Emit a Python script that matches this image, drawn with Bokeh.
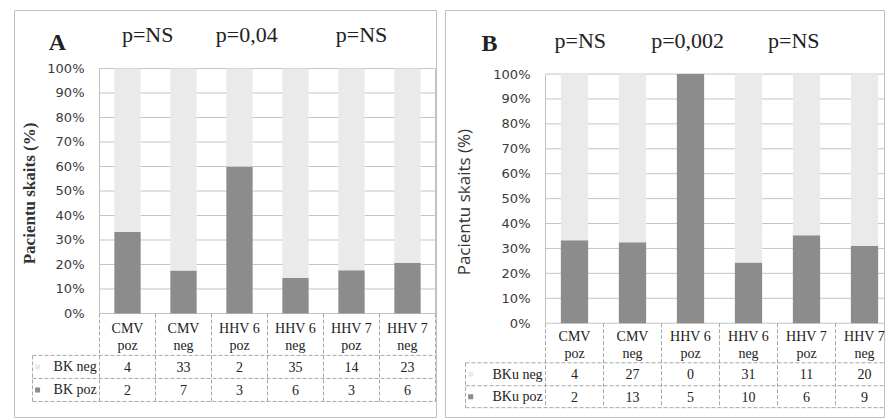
import math
from bokeh.plotting import figure
from bokeh.models import ColumnDataSource, LinearAxis, FixedTicker, NumeralTickFormatter, Range1d
from bokeh.layouts import row
from bokeh.embed import file_html
from bokeh.resources import INLINE
from bokeh.core.properties import value

# ---------------- data ----------------
categories = ["CMV\npoz", "CMV\nneg", "HHV 6\npoz", "HHV 6\nneg", "HHV 7\npoz", "HHV 7\nneg"]
a_neg = [4, 33, 2, 35, 14, 23]
a_poz = [2, 7, 3, 6, 3, 6]
a_series = ["BK neg", "BK poz"]
a_pvalues = ["p=NS", "p=0,04", "p=NS"]

b_neg = [4, 27, 0, 31, 11, 20]
b_poz = [2, 13, 5, 10, 6, 9]
b_series = ["BKu neg", "BKu poz"]
b_pvalues = ["p=NS", "p=0,002", "p=NS"]

y_ticks = [0.0, 0.1, 0.2, 0.3, 0.4, 0.5, 0.6, 0.7, 0.8, 0.9, 1.0]
y_title = "Pacientu skaits (%)"

# ---------------- styles ----------------
DARK = "#8c8c8c"
LIGHT = "#eaeaea"
GRID = "#c4c4c4"
TLINE = "#a8a8a8"
SERIF = "Liberation Serif"
SANS = "Open Sans"
TICKFONT = "DejaVu Sans"


def make_panel(letter, neg, poz, series, pvals, cfg):
    n = len(categories)
    xs = [i + 0.5 for i in range(n)]
    poz_pct = [p / (p + q) for p, q in zip(poz, neg)]
    neg_pct = [q / (p + q) for p, q in zip(poz, neg)]

    p = figure(width=cfg["width"], height=419, output_backend="svg", toolbar_location=None,
               x_range=Range1d(*cfg["xr"]), y_range=Range1d(*cfg["yr"]),
               x_axis_type=None, y_axis_type=None,
               min_border_left=cfg["mbl"], min_border_right=0,
               min_border_top=cfg["mbt"], min_border_bottom=419 - cfg["mbt"] - cfg["fh"])
    p.xgrid.visible = False
    p.ygrid.visible = False
    p.outline_line_color = "#c0c0c0"
    p.background_fill_color = "white"
    p.border_fill_color = "white"

    # y axis at plot-area left edge
    ax = LinearAxis(ticker=FixedTicker(ticks=y_ticks), formatter=NumeralTickFormatter(format="0%"),
                    fixed_location=0, bounds=(0, 1),
                    major_label_text_font=TICKFONT, major_label_text_font_size="13px",
                    major_label_text_color="#3a3a3a", major_label_standoff=9,
                    axis_line_color=GRID, major_tick_line_color=None, minor_tick_line_color=None)
    p.add_layout(ax, "left")

    # gridlines inside the plot area
    p.segment(x0=[0] * len(y_ticks), x1=[n] * len(y_ticks), y0=y_ticks, y1=y_ticks,
              line_color=GRID, line_width=1)
    p.segment(x0=[n], x1=[n], y0=[0], y1=[1], line_color=GRID, line_width=1)

    # stacked bars
    src = ColumnDataSource(dict(x=xs, poz=poz_pct, neg=neg_pct))
    p.vbar_stack(["poz", "neg"], x="x", width=0.47, color=[DARK, LIGHT], line_color=None, source=src)

    # data table
    tt, tm, tb = cfg["table"]
    ll = cfg["leg_left"]
    p.segment(x0=[ll, ll, ll], x1=[n, n, n], y0=[tt, tm, tb], y1=[tt, tm, tb],
              line_color=TLINE, line_width=1, line_dash="4 2")
    p.segment(x0=list(range(n + 1)), x1=list(range(n + 1)), y0=[0] * (n + 1), y1=[tb] * (n + 1),
              line_color=TLINE, line_width=1, line_dash="4 2")
    p.segment(x0=[ll], x1=[ll], y0=[tt], y1=[tb], line_color=TLINE, line_width=1, line_dash="4 2")

    p.text(x=xs, y=[cfg["cat_y"]] * n, text=categories, text_font=value(SERIF), text_font_size="14px",
           text_align="center", text_baseline="middle", text_color="#222222", text_line_height=1.15)
    r1 = (tt + tm) / 2
    r2 = (tm + tb) / 2
    p.text(x=xs, y=[r1] * n, text=[str(v) for v in neg], text_font=value(SERIF), text_font_size="14px",
           text_align="center", text_baseline="middle", text_color="#222222")
    p.text(x=xs, y=[r2] * n, text=[str(v) for v in poz], text_font=value(SERIF), text_font_size="14px",
           text_align="center", text_baseline="middle", text_color="#222222")
    p.text(x=[-0.05, -0.05], y=[r1, r2], text=series, text_font=value(SERIF), text_font_size="14px",
           text_align="right", text_baseline="middle", text_color="#222222")
    p.scatter(x=[ll + 0.09] * 2, y=[r1, r2], marker="square", size=5, color=[LIGHT, DARK], line_color=None)

    # titles
    p.text(x=[cfg["letter_x"]], y=[cfg["letter_y"]], text=[letter], text_font=value(SERIF),
           text_font_style="bold", text_font_size="24px", text_align="center", text_baseline="middle",
           text_color="#222222")
    p.text(x=cfg["p_x"], y=[cfg["p_y"]] * len(pvals), text=pvals, text_font=value(SERIF),
           text_font_size="22px", text_align="center", text_baseline="middle", text_color="#222222")
    p.text(x=[cfg["yt_x"]], y=[cfg["yt_y"]], text=[y_title], angle=math.pi / 2,
           text_font=value(cfg["yt_font"]), text_font_style=cfg["yt_style"], text_font_size=cfg["yt_size"],
           text_align="center", text_baseline="middle", text_color="#333333")
    return p


cfg_a = dict(width=437, mbl=14, mbt=10, fh=407,
             xr=(-1.518, 6.036), yr=(-0.4245, 1.2367),
             table=(-0.171, -0.265, -0.359), leg_left=-1.196, cat_y=-0.097,
             letter_x=-0.75, letter_y=1.11, p_x=[0.86, 2.63, 4.68], p_y=1.139,
             yt_x=-1.25, yt_y=0.49, yt_font=SERIF, yt_style="bold", yt_size="17px")
cfg_b = dict(width=448, mbl=8, mbt=7, fh=410,
             xr=(-1.724, 5.862), yr=(-0.3785, 1.255),
             table=(-0.159, -0.251, -0.339), leg_left=-1.379, cat_y=-0.088,
             letter_x=-0.966, letter_y=1.124, p_x=[0.60, 2.45, 4.28], p_y=1.135,
             yt_x=-1.41, yt_y=0.486, yt_font=SANS, yt_style="normal", yt_size="17px")

pa = make_panel("A", a_neg, a_poz, a_series, a_pvalues, cfg_a)
pb = make_panel("B", b_neg, b_poz, b_series, b_pvalues, cfg_b)

layout = row(pa, pb)
open("out.html", "w").write(file_html(layout, INLINE))
